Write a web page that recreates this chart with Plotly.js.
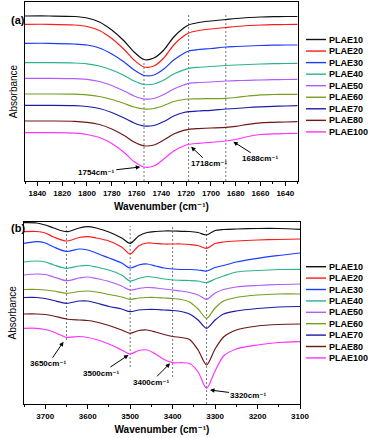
<!DOCTYPE html>
<html>
<head>
<meta charset="utf-8">
<script src="https://cdn.plot.ly/plotly-3.0.1.min.js"></script>
<style>
  html, body { margin: 0; padding: 0; background: #fff; }
  #chart { width: 370px; height: 438px; }
</style>
</head>
<body>
<div id="chart"></div>
<script>
const names = ['PLAE10', 'PLAE20', 'PLAE30', 'PLAE40', 'PLAE50', 'PLAE60', 'PLAE70', 'PLAE80', 'PLAE100'];
const colors = ['#111111', '#ff1a1a', '#1a3cff', '#2db38c', '#b05cff', '#74a020', '#1c1ca6', '#6e1818', '#ff33ff'];

// (a) carbonyl region
const waveTop = [1850, 1830, 1810, 1800, 1790, 1780, 1770, 1762, 1754, 1746, 1738, 1730, 1722, 1718, 1710, 1700, 1688, 1680, 1670, 1660, 1650, 1640, 1630];
const plae10Top = [1.84, 1.84, 1.835, 1.82, 1.78, 1.70, 1.59, 1.48, 1.405, 1.42, 1.50, 1.63, 1.72, 1.75, 1.775, 1.79, 1.805, 1.815, 1.825, 1.83, 1.833, 1.835, 1.835];
const plae20Top = [1.757, 1.757, 1.75, 1.735, 1.695, 1.615, 1.505, 1.40, 1.33, 1.34, 1.42, 1.55, 1.64, 1.67, 1.695, 1.71, 1.725, 1.735, 1.745, 1.75, 1.753, 1.755, 1.757];
const plae30Top = [1.567, 1.567, 1.56, 1.55, 1.52, 1.46, 1.38, 1.30, 1.245, 1.25, 1.31, 1.40, 1.465, 1.49, 1.505, 1.515, 1.53, 1.535, 1.54, 1.545, 1.548, 1.55, 1.55];
const plae40Top = [1.373, 1.373, 1.37, 1.362, 1.34, 1.30, 1.245, 1.19, 1.155, 1.16, 1.20, 1.26, 1.30, 1.317, 1.327, 1.335, 1.345, 1.35, 1.355, 1.36, 1.363, 1.365, 1.367];
const plae50Top = [1.217, 1.217, 1.214, 1.207, 1.185, 1.145, 1.09, 1.04, 1.01, 1.015, 1.055, 1.11, 1.15, 1.167, 1.175, 1.18, 1.19, 1.193, 1.197, 1.20, 1.203, 1.205, 1.207];
const plae60Top = [1.06, 1.06, 1.058, 1.052, 1.035, 1.005, 0.965, 0.93, 0.91, 0.915, 0.945, 0.985, 1.005, 1.01, 1.012, 1.014, 1.017, 1.025, 1.04, 1.052, 1.055, 1.057, 1.057];
const plae70Top = [0.947, 0.947, 0.944, 0.935, 0.915, 0.875, 0.82, 0.77, 0.74, 0.745, 0.785, 0.84, 0.875, 0.883, 0.89, 0.897, 0.91, 0.915, 0.925, 0.932, 0.937, 0.94, 0.943];
const plae80Top = [0.79, 0.79, 0.787, 0.777, 0.755, 0.71, 0.645, 0.58, 0.542, 0.55, 0.60, 0.66, 0.697, 0.707, 0.714, 0.72, 0.727, 0.737, 0.757, 0.772, 0.777, 0.78, 0.783];
const plae100Top = [0.673, 0.673, 0.668, 0.655, 0.625, 0.565, 0.475, 0.385, 0.33, 0.34, 0.41, 0.49, 0.54, 0.557, 0.567, 0.577, 0.59, 0.605, 0.635, 0.655, 0.662, 0.665, 0.667];

// (b) hydroxyl / N-H region
const waveBot = [3750, 3720, 3700, 3680, 3650, 3620, 3600, 3580, 3550, 3520, 3500, 3480, 3460, 3440, 3420, 3400, 3380, 3360, 3340, 3320, 3300, 3280, 3250, 3200, 3150, 3100];
const plae10Bot = [2.073, 2.07, 2.05, 2.02, 1.983, 2.02, 2.033, 2.02, 1.98, 1.92, 1.867, 1.94, 1.975, 1.985, 1.99, 1.99, 1.987, 1.985, 1.975, 1.95, 1.995, 2.005, 2.01, 2.015, 2.015, 2.007];
const plae20Bot = [1.983, 1.985, 1.97, 1.93, 1.89, 1.925, 1.933, 1.92, 1.89, 1.83, 1.76, 1.84, 1.87, 1.865, 1.86, 1.86, 1.86, 1.855, 1.845, 1.817, 1.865, 1.88, 1.89, 1.90, 1.905, 1.91];
const plae30Bot = [1.867, 1.883, 1.87, 1.83, 1.785, 1.81, 1.80, 1.77, 1.72, 1.67, 1.62, 1.65, 1.66, 1.64, 1.62, 1.61, 1.605, 1.605, 1.60, 1.59, 1.625, 1.645, 1.68, 1.717, 1.745, 1.77];
const plae40Bot = [1.68, 1.69, 1.68, 1.65, 1.617, 1.64, 1.645, 1.63, 1.60, 1.55, 1.49, 1.515, 1.535, 1.525, 1.51, 1.50, 1.497, 1.495, 1.49, 1.473, 1.51, 1.54, 1.58, 1.595, 1.605, 1.607];
const plae50Bot = [1.55, 1.56, 1.555, 1.53, 1.493, 1.52, 1.53, 1.515, 1.485, 1.44, 1.40, 1.415, 1.425, 1.42, 1.41, 1.40, 1.39, 1.375, 1.35, 1.307, 1.37, 1.405, 1.43, 1.445, 1.455, 1.46];
const plae60Bot = [1.405, 1.405, 1.40, 1.39, 1.367, 1.385, 1.39, 1.38, 1.355, 1.33, 1.307, 1.32, 1.325, 1.325, 1.32, 1.315, 1.305, 1.28, 1.21, 1.117, 1.22, 1.29, 1.325, 1.35, 1.36, 1.36];
const plae70Bot = [1.325, 1.325, 1.315, 1.295, 1.267, 1.29, 1.29, 1.27, 1.235, 1.21, 1.183, 1.20, 1.205, 1.205, 1.20, 1.195, 1.185, 1.16, 1.10, 1.017, 1.10, 1.16, 1.19, 1.215, 1.23, 1.235];
const plae80Bot = [1.16, 1.16, 1.155, 1.14, 1.11, 1.10, 1.095, 1.08, 1.045, 1.00, 0.967, 0.995, 1.00, 0.98, 0.955, 0.935, 0.925, 0.905, 0.80, 0.65, 0.81, 0.93, 1.00, 1.04, 1.055, 1.06];
const plae100Bot = [1.017, 1.017, 1.005, 0.98, 0.927, 0.935, 0.925, 0.905, 0.86, 0.80, 0.76, 0.795, 0.80, 0.76, 0.705, 0.673, 0.673, 0.665, 0.58, 0.417, 0.59, 0.74, 0.81, 0.85, 0.875, 0.883];

const topSeries = [plae10Top, plae20Top, plae30Top, plae40Top, plae50Top, plae60Top, plae70Top, plae80Top, plae100Top];
const botSeries = [plae10Bot, plae20Bot, plae30Bot, plae40Bot, plae50Bot, plae60Bot, plae70Bot, plae80Bot, plae100Bot];

// marked bands: wavenumber, end of the guide line, arrow tip
const bandsTop = [1754, 1718, 1688];
const bandsTopLineTop = [1.38, 1.85, 1.87];
const bandsTopTipX = [1757, 1716, 1682];
const bandsTopTipY = [0.33, 0.533, 0.583];
const bandsBot = [3650, 3500, 3400, 3320];
const bandsBotLineBottom = [0.90, 0.63, 0.53, 0.26];
const bandsBotTipX = [3657, 3504, 3406, 3312];
const bandsBotTipY = [0.883, 0.75, 0.667, 0.40];

const FONT = 'Liberation Sans, Arial, DejaVu Sans, sans-serif';
const topRange = [0.19, 1.98];
const botRange = [0.26, 2.083];

// pixel helpers for paper coordinates (plot area 24..300 x 2..404)
const px = v => (v - 24) / 276;
const py = v => (404 - v) / 402;

const traces = [];
names.forEach((n, i) => {
  traces.push({ x: waveTop, y: topSeries[i], xaxis: 'x', yaxis: 'y', type: 'scatter', mode: 'lines',
    name: n, line: { color: colors[i], width: 1.2, shape: 'spline', smoothing: 0.8 }, hoverinfo: 'skip' });
  traces.push({ x: waveBot, y: botSeries[i], xaxis: 'x2', yaxis: 'y2', type: 'scatter', mode: 'lines',
    name: n, line: { color: colors[i], width: 1.2, shape: 'spline', smoothing: 0.8 }, hoverinfo: 'skip' });
});

const shapes = [];
const annotations = [];
const dashLine = { color: '#777', width: 1, dash: '2px,2px' };

bandsTop.forEach((b, i) => {
  shapes.push({ type: 'line', xref: 'x', yref: 'y', x0: b, x1: b, y0: topRange[0], y1: bandsTopLineTop[i], line: dashLine, layer: 'below' });
});
bandsBot.forEach((b, i) => {
  shapes.push({ type: 'line', xref: 'x2', yref: 'y2', x0: b, x1: b, y0: bandsBotLineBottom[i], y1: 2.04, line: dashLine, layer: 'below' });
});

const topOffsets = [[-44, 5], [18, 17], [27, 17]];
const botOffsets = [[-15, 22], [-27, 18], [-19, 19], [39, 5]];
const arrowStyle = { showarrow: true, arrowhead: 2, arrowsize: 0.9, arrowwidth: 1, arrowcolor: '#000',
  font: { family: FONT, size: 8, color: '#000', weight: 'bold' } };

bandsTop.forEach((b, i) => {
  annotations.push(Object.assign({ xref: 'x', yref: 'y', x: bandsTopTipX[i], y: bandsTopTipY[i],
    ax: topOffsets[i][0], ay: topOffsets[i][1], text: b + 'cm⁻¹' }, arrowStyle));
});
bandsBot.forEach((b, i) => {
  annotations.push(Object.assign({ xref: 'x2', yref: 'y2', x: bandsBotTipX[i], y: bandsBotTipY[i],
    ax: botOffsets[i][0], ay: botOffsets[i][1], text: b + 'cm⁻¹' }, arrowStyle));
});

// panel letters
annotations.push({ xref: 'paper', yref: 'paper', x: px(9), y: py(12), text: '(a)', showarrow: false,
  font: { family: FONT, size: 11, weight: 'bold', color: '#000' } });
annotations.push({ xref: 'paper', yref: 'paper', x: px(9), y: py(228), text: '(b)', showarrow: false,
  font: { family: FONT, size: 11, weight: 'bold', color: '#000' } });

// legends drawn beside each panel
function addLegend(y0, step) {
  names.forEach((n, i) => {
    const yy = y0 + i * step;
    shapes.push({ type: 'line', xref: 'paper', yref: 'paper', x0: px(306), x1: px(326), y0: py(yy), y1: py(yy),
      line: { color: colors[i], width: 1.4 } });
    annotations.push({ xref: 'paper', yref: 'paper', x: px(327), y: py(yy), xanchor: 'left', yanchor: 'middle',
      text: n, showarrow: false, font: { family: FONT, size: 9, weight: 'bold', color: '#000' } });
  });
}
addLegend(39.5, 11.55);
addLegend(266.7, 11.4);

const axisBase = { showgrid: false, zeroline: false, showline: true, mirror: true, linecolor: '#000', linewidth: 1, automargin: false };
const tickFont = { family: FONT, size: 8, weight: 'bold', color: '#000' };
const xTitle = { text: 'Wavenumber (cm⁻¹)', font: { family: FONT, size: 10, weight: 'bold', color: '#000' }, standoff: 6 };
const yTitle = { text: 'Absorbance', font: { family: FONT, size: 10, color: '#000' }, standoff: 4 };

const layout = {
  width: 370, height: 438,
  margin: { l: 24, r: 70, t: 2, b: 34 },
  paper_bgcolor: '#fff', plot_bgcolor: '#fff',
  showlegend: false,
  font: { family: FONT, color: '#000' },
  xaxis: Object.assign({}, axisBase, {
    domain: [px(25), px(297.7)], anchor: 'y', range: [1850, 1630],
    tick0: 1640, dtick: 20, ticks: 'outside', ticklen: 4, tickwidth: 1, tickcolor: '#000',
    minor: { ticks: 'outside', ticklen: 2, tick0: 1630, dtick: 10, tickcolor: '#000' },
    tickfont: tickFont, title: xTitle
  }),
  yaxis: Object.assign({}, axisBase, {
    domain: [py(181), py(2)], anchor: 'x', range: topRange,
    showticklabels: false, ticks: '', title: yTitle
  }),
  xaxis2: Object.assign({}, axisBase, {
    domain: [0, 1], anchor: 'y2', range: [3750, 3100],
    tick0: 3100, dtick: 100, ticks: 'outside', ticklen: 4, tickwidth: 1, tickcolor: '#000',
    minor: { ticks: 'outside', ticklen: 2, tick0: 3100, dtick: 50, tickcolor: '#000' },
    tickfont: tickFont, title: xTitle
  }),
  yaxis2: Object.assign({}, axisBase, {
    domain: [0, py(221.7)], anchor: 'x2', range: botRange,
    showticklabels: false, ticks: '', title: yTitle
  }),
  shapes: shapes,
  annotations: annotations
};

Plotly.newPlot('chart', traces, layout, { staticPlot: true, displayModeBar: false });
</script>
</body>
</html>
